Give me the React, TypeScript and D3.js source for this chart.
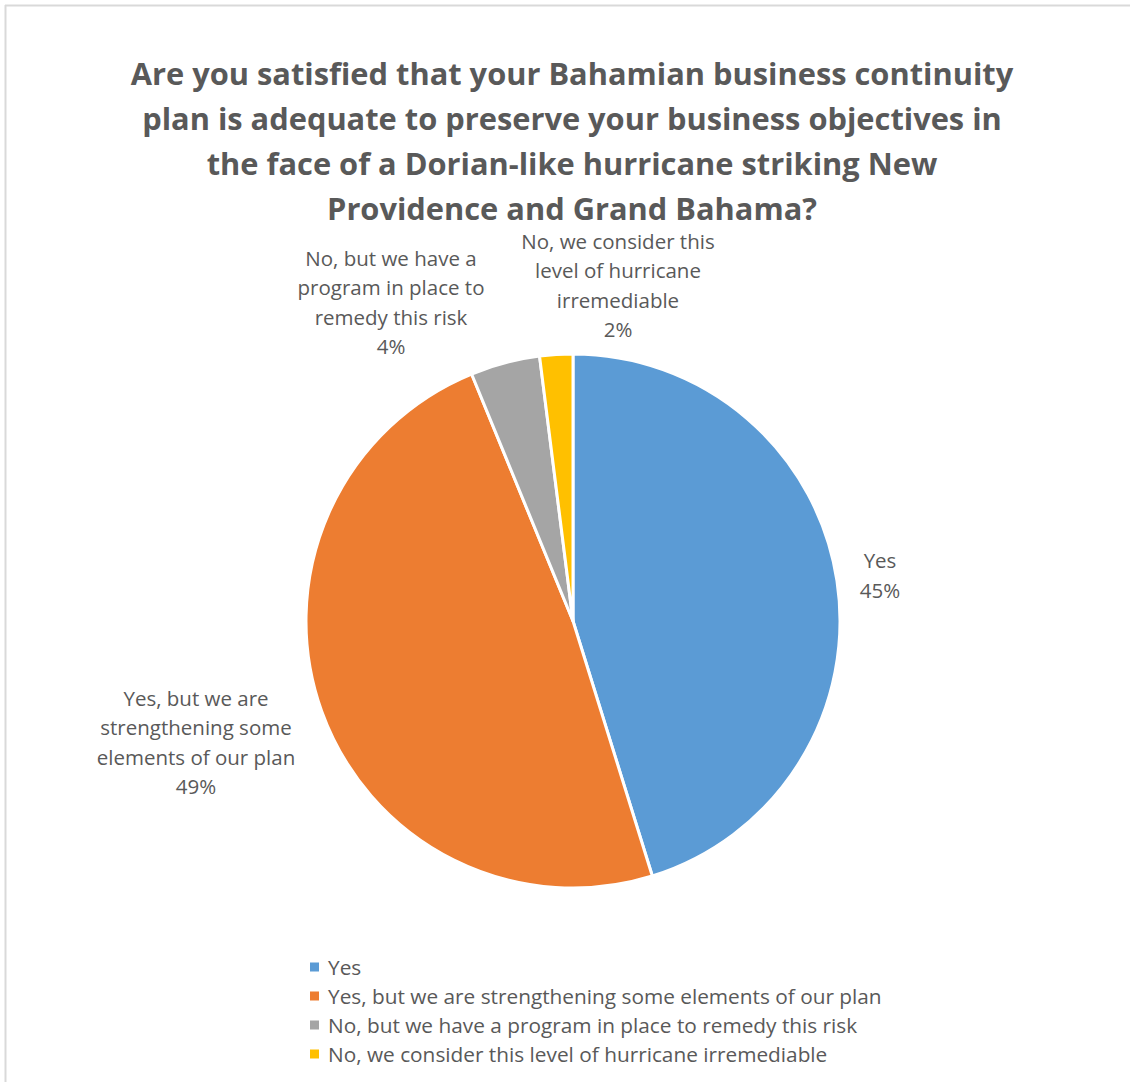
import React from "react";
import * as d3 from "d3";

const categories = [
  "Yes",
  "Yes, but we are strengthening some elements of our plan",
  "No, but we have a program in place to remedy this risk",
  "No, we consider this level of hurricane irremediable",
];
const shares = [45.2, 48.6, 4.2, 2.0];
const colors = ["#5B9BD5", "#ED7D31", "#A5A5A5", "#FFC000"];
const labelLines = [
  ["Yes"],
  ["Yes, but we are", "strengthening some", "elements of our plan"],
  ["No, but we have a", "program in place to", "remedy this risk"],
  ["No, we consider this", "level of hurricane", "irremediable"],
];
const titleLines = [
  "Are you satisfied that your Bahamian business continuity",
  "plan is adequate to preserve your business objectives in",
  "the face of a Dorian-like hurricane striking New",
  "Providence and Grand Bahama?",
];

// label centre positions relative to pie centre (layout)
const labelOffsets = [
  { dx: 307, dy: -46 },
  { dx: -377, dy: 121 },
  { dx: -182, dy: -319 },
  { dx: 45, dy: -336 },
];

const W = 1130;
const H = 1082;
const cx = 573;
const cy = 621;
const R = 267;
const FONT = "'Open Sans', Lato, sans-serif";
const TXT = "#595959";

export default function App() {
  const total = d3.sum(shares);
  const pie = d3
    .pie<number>()
    .sort(null)
    .value((d) => d)(shares);
  const arc = d3.arc<d3.PieArcDatum<number>>().innerRadius(0).outerRadius(R);
  const fmt = d3.format(".0%");
  const lineH = 29.5;

  return (
    <svg
      width={W}
      height={H}
      style={{ position: "absolute", left: 0, top: 0, background: "#fff" }}
    >
      <rect x={0} y={0} width={W} height={H} fill="#fff" />
      <line x1={5} y1={5.5} x2={W} y2={5.5} stroke="#D9D9D9" strokeWidth={2} />
      <line x1={5.5} y1={5} x2={5.5} y2={H} stroke="#D9D9D9" strokeWidth={2} />
      <g fontFamily={FONT} fontWeight={700} fontSize={30.8} fill={TXT} textAnchor="middle">
        {titleLines.map((t, i) => (
          <text key={i} x={572} y={85 + i * 45}>
            {t}
          </text>
        ))}
      </g>
      <g transform={`translate(${cx},${cy})`}>
        {pie.map((p, i) => (
          <path key={i} d={arc(p) || ""} fill={colors[i]} stroke="#fff" strokeWidth={3} strokeLinejoin="round" />
        ))}
        {pie.map((p, i) => {
          const lines = [...labelLines[i], fmt(shares[i] / total)];
          const off = labelOffsets[i];
          const y0 = off.dy - ((lines.length - 1) * lineH) / 2;
          return (
            <text
              key={i}
              fontFamily={FONT}
              fontSize={20.5}
              fill={TXT}
              textAnchor="middle"
              dominantBaseline="central"
            >
              {lines.map((l, j) => (
                <tspan key={j} x={off.dx} y={y0 + j * lineH}>
                  {l}
                </tspan>
              ))}
            </text>
          );
        })}
      </g>
      <g fontFamily={FONT} fontSize={20.8} fill={TXT}>
        {categories.map((c, i) => (
          <g key={i} transform={`translate(310,${967 + i * 29})`}>
            <rect x={0} y={-4.5} width={9} height={9} fill={colors[i]} />
            <text x={18} y={0} dominantBaseline="central">
              {c}
            </text>
          </g>
        ))}
      </g>
    </svg>
  );
}
